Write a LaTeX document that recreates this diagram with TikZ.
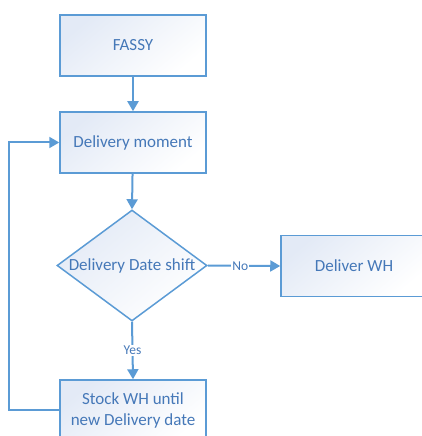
\documentclass[tikz,border=0pt]{standalone}
\usepackage{fontspec}
\setmainfont{Carlito}
\usetikzlibrary{arrows.meta,shapes.geometric}
\definecolor{edge}{HTML}{5B9BD5}
\definecolor{ink}{HTML}{4578B8}
\definecolor{tint}{HTML}{E3EAF6}
\tikzset{
  x=1pt, y=1pt,
  shadefill/.style={top color=tint, bottom color=white, shading angle=40},
  boxtext/.style={text=ink, font=\fontsize{17}{20.5}\selectfont, align=center},
  procbox/.style={draw=edge, line width=1.5pt, shadefill, minimum width=146pt,
    minimum height=61pt, inner sep=0pt, boxtext},
  decision/.style={diamond, draw=edge, line width=1.5pt, shadefill, minimum width=150pt,
    minimum height=111pt, inner sep=0pt},
  flow/.style={draw=edge, line width=2pt, -{Triangle[length=10pt,width=11pt]}},
  flowlabel/.style={fill=white, text=ink, inner sep=1pt, font=\fontsize{13.5}{16}\selectfont}
}
\begin{document}
\begin{tikzpicture}
\useasboundingbox (0,0) rectangle (422,436);
\node[procbox] (fassy) at (133,390.5) {FASSY};
\node[procbox] (moment) at (133,293.5) {Delivery moment};
\node[decision] (shift) at (132,170.5) {};
\node[boxtext] (shifttext) at (shift.center) {Delivery Date shift};
\node[procbox] (deliver) at (354,170) {Deliver WH};
\node[procbox] (stock) at (133,25.5) {Stock WH until\\new Delivery date};
\draw[flow] (fassy) -- (moment);
\draw[flow] (moment) -- (shift.north);
\draw[flow] (shift.east) -- node[flowlabel, pos=0.45] {No} (deliver.west);
\draw[flow] (shift.south) -- node[flowlabel, pos=0.5] {Yes} (stock.north);
\draw[flow] (stock.west) -- ++(-50,0) |- (moment.west);
\end{tikzpicture}
\end{document}
